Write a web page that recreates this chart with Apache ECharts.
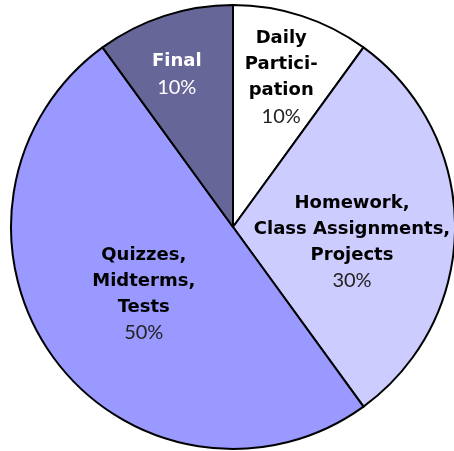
<!DOCTYPE html>
<html>
<head>
<meta charset="utf-8">
<script src="https://cdn.jsdelivr.net/npm/echarts@6/dist/echarts.min.js"></script>
<style>
html,body{margin:0;padding:0;background:#fff;}
#c{width:454px;height:451px;}
</style>
</head>
<body>
<div id="c"></div>
<script>
var categories = ["Daily\nPartici-\npation", "Homework,\nClass Assignments,\nProjects", "Quizzes,\nMidterms,\nTests", "Final"];
var values = [10, 30, 50, 10];

var colors = ["#ffffff", "#ccccff", "#9999ff", "#666699"];
var labelColors = ["#000", "#000", "#000", "#fff"];
var labelOffsets = [[13, -41], [5, 15], [3, 0], [-21, -44]];

var chart = echarts.init(document.getElementById('c'), null, {renderer: 'canvas'});
var data = categories.map(function (name, i) {
  return {
    name: name,
    value: values[i],
    itemStyle: {color: colors[i]},
    label: {
      offset: labelOffsets[i],
      rich: {
        b: {fontFamily: 'DejaVu Sans', fontWeight: 'bold', fontSize: 18, lineHeight: 26, color: labelColors[i]},
        p: {fontFamily: 'Lato', fontWeight: 'normal', fontSize: 20, lineHeight: 26, color: labelColors[i] === '#fff' ? '#fff' : '#222'}
      }
    }
  };
});

chart.setOption({
  animation: false,
  series: [{
    type: 'pie',
    center: [233, 227],
    radius: [0, 222],
    startAngle: 90,
    clockwise: true,
    avoidLabelOverlap: false,
    itemStyle: {borderColor: '#000', borderWidth: 2},
    label: {
      show: true,
      position: 'inside',
      align: 'center',
      formatter: function (p) {
        var lines = p.name.split('\n').map(function (l) { return '{b|' + l + '}'; }).join('\n');
        return lines + '\n{p|' + p.value + '%}';
      }
    },
    labelLine: {show: false},
    emphasis: {disabled: true},
    data: data
  }]
});
</script>
</body>
</html>
